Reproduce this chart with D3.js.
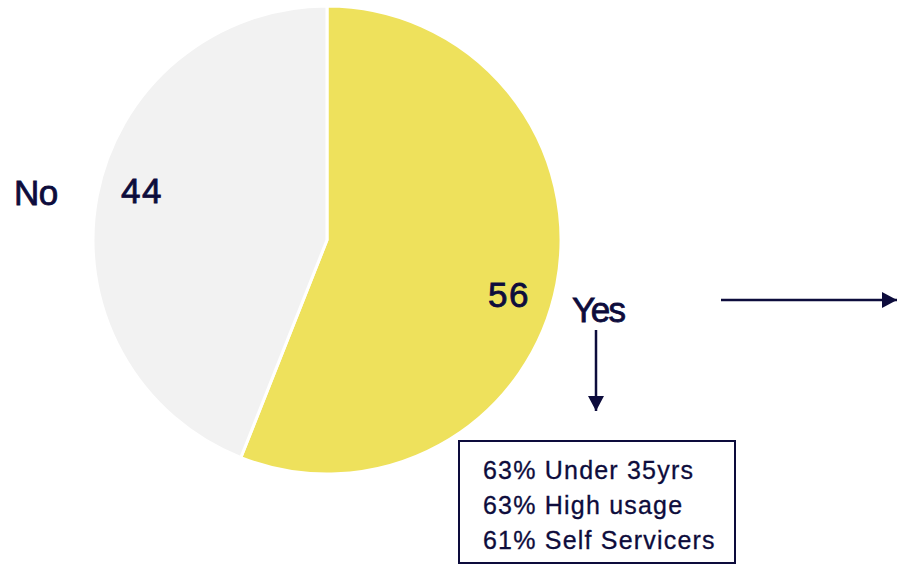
<!DOCTYPE html>
<html>
<head>
<meta charset="utf-8">
<script src="https://cdn.jsdelivr.net/npm/d3@7"></script>
<style>
body { margin: 0; background: #fff; }
svg text { font-family: "Liberation Sans", Arial, sans-serif; fill: #0d0c3c; }
</style>
</head>
<body>
<script>
var w = 897;
var h = 565;

// data
var categories = ["Yes", "No"];
var values = [56, 44];
var colors = ["#eee15c", "#f2f2f2"];
var notes = ["63% Under 35yrs", "63% High usage", "61% Self Servicers"];

var navy = "#0d0c3c";

var svg = d3.select("body")
	.append("svg")
	.attr("width", w)
	.attr("height", h);

var defs = svg.append("defs");
defs.append("marker")
	.attr("id", "head")
	.attr("viewBox", "0 0 10 10")
	.attr("refX", 10)
	.attr("refY", 5)
	.attr("markerWidth", 15)
	.attr("markerHeight", 16)
	.attr("markerUnits", "userSpaceOnUse")
	.attr("orient", "auto")
	.attr("preserveAspectRatio", "none")
	.append("path")
	.attr("d", "M0,0 L10,5 L0,10 Z")
	.attr("fill", navy);

var cx = 327, cy = 240, r = 234;

var pie = d3.pie().sort(null).value(function(d){ return d; });
var arc = d3.arc().innerRadius(0).outerRadius(r);
var arcs = pie(values);

var g = svg.append("g").attr("transform", "translate(" + cx + "," + cy + ")");

g.selectAll("path")
	.data(arcs)
	.enter()
	.append("path")
	.attr("d", arc)
	.attr("fill", function(d, i){ return colors[i]; })
	.attr("stroke", "#fff")
	.attr("stroke-width", 3);

// values inside slices
var valuePos = [[182, 67], [-185, -37]];
g.selectAll("text.val")
	.data(arcs)
	.enter()
	.append("text")
	.attr("class", "val")
	.attr("x", function(d, i){ return valuePos[i][0]; })
	.attr("y", function(d, i){ return valuePos[i][1]; })
	.attr("text-anchor", "middle")
	.attr("font-size", "35px")
	.attr("letter-spacing", "1.5px")
	.attr("stroke", navy)
	.attr("stroke-width", 0.8)
	.text(function(d){ return d.data; });

// category labels
svg.append("text")
	.attr("x", 572).attr("y", 322)
	.attr("font-size", "35px")
	.attr("letter-spacing", "-1.5px")
	.attr("stroke", navy).attr("stroke-width", 0.8)
	.text(categories[0]);
svg.append("text")
	.attr("x", 14).attr("y", 205)
	.attr("font-size", "35px")
	.attr("letter-spacing", "-0.5px")
	.attr("stroke", navy).attr("stroke-width", 0.8)
	.text(categories[1]);

// arrows
svg.append("line")
	.attr("x1", 596).attr("y1", 330)
	.attr("x2", 596).attr("y2", 411)
	.attr("stroke", navy).attr("stroke-width", 2.5)
	.attr("marker-end", "url(#head)");
svg.append("line")
	.attr("x1", 721).attr("y1", 300)
	.attr("x2", 897).attr("y2", 300)
	.attr("stroke", navy).attr("stroke-width", 2.5)
	.attr("marker-end", "url(#head)");

// note box
svg.append("rect")
	.attr("x", 459).attr("y", 441)
	.attr("width", 276).attr("height", 122)
	.attr("fill", "none")
	.attr("stroke", navy)
	.attr("stroke-width", 2);

svg.selectAll("text.note")
	.data(notes)
	.enter()
	.append("text")
	.attr("class", "note")
	.attr("x", 483)
	.attr("y", function(d, i){ return 479 + i * 35; })
	.attr("font-size", "25px")
	.attr("letter-spacing", "1.2px")
	.attr("stroke", navy).attr("stroke-width", 0.3)
	.text(function(d){ return d; });
</script>
</body>
</html>
